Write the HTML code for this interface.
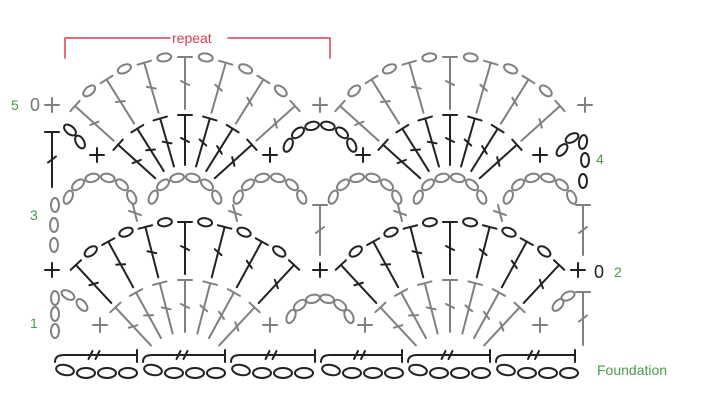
<!DOCTYPE html>
<html><head><meta charset="utf-8"><style>
html,body{margin:0;padding:0;background:#fff;width:705px;height:400px;overflow:hidden}
svg{display:block}
text{font-family:"Liberation Sans","DejaVu Sans",sans-serif}
</style></head><body>
<svg id="s" width="705" height="400" viewBox="0 0 705 400" xmlns="http://www.w3.org/2000/svg">
<g fill="none" stroke-linecap="round">
<path d="M65 58 V38 H170 M228 38 H330 V58" stroke="#d04050" stroke-width="1.5"/>
</g>
<text x="172" y="43" font-size="14" fill="#d04050">repeat</text>
<g font-size="14" fill="#4a9a4a">
<text x="11" y="110">5</text>
<text x="30" y="220">3</text>
<text x="30" y="328">1</text>
<text x="614" y="277">2</text>
<text x="596" y="164">4</text>
<text x="597" y="375">Foundation</text>
</g>
<g font-size="18" fill="#777"><text x="30" y="111">0</text></g>
<g font-size="18" fill="#222"><text x="594" y="278">0</text></g>
<g id="g" fill="none" stroke-width="2" stroke-linecap="round"></g>
</svg>
<script>
var G=document.getElementById('g'),NS='http://www.w3.org/2000/svg';
var K='#222',Y='#808080';
function el(t,a){var e=document.createElementNS(NS,t);for(var k in a)e.setAttribute(k,a[k]);G.appendChild(e);return e;}
function line(x1,y1,x2,y2,c){el('line',{x1:x1,y1:y1,x2:x2,y2:y2,stroke:c});}
function oval(x,y,ang,c,rx,ry){el('ellipse',{cx:x,cy:y,rx:rx||7,ry:ry||4,stroke:c,transform:'rotate('+ang+' '+x+' '+y+')'});}
function plus(x,y,c){line(x-7,y,x+7,y,c);line(x,y-7,x,y+7,c);}
function xm(x,y,c){var a=0.35;line(x-6,y-6*a,x+6,y+6*a,c);line(x-2,y-8,x+2,y+8,c);}
function dc(cx,cy,a,r0,r1,c){var d=a*Math.PI/180,s=Math.sin(d),co=-Math.cos(d);
 var x0=cx+s*r0,y0=cy+co*r0,x1=cx+s*r1,y1=cy+co*r1;line(x0,y0,x1,y1,c);
 var px=-co,py=s; line(x1-px*7,y1-py*7,x1+px*7,y1+py*7,c);
 var mx=(x0+x1)/2,my=(y0+y1)/2; line(mx-px*4+s*2,my-py*4+co*2,mx+px*4-s*2,my+py*4-co*2,c);}
function vdc(x,y0,y1,c){line(x,y0,x,y1,c);line(x-7,y0,x+7,y0,c);line(x-4,(y0+y1)/2+3,x+4,(y0+y1)/2-3,c);}
function fan(cx,cy,span,ri0,ri1,ci,ro0,ro1,co,ovalc){
 for(var i=0;i<7;i++){var a=-span+i*span/3;dc(cx,cy,a,ri0,ri1,ci);dc(cx,cy,a,ro0,ro1,co);
  if(i<6){var m=a+span/6,d=m*Math.PI/180;oval(cx+Math.sin(d)*(ro1+1),cy-Math.cos(d)*(ro1+1),m,ovalc);}}}
function arc(cx,cy,r,a0,a1,n,c){for(var i=0;i<n;i++){var a=a0+(a1-a0)*i/(n-1),d=a*Math.PI/180;oval(cx+Math.sin(d)*r,cy-Math.cos(d)*r,a,c);}}
[185,450].forEach(function(x){fan(x,205,48,40,90,K,96,148,Y,Y);});
[185,450].forEach(function(x){fan(x,382,43,50,102,Y,108,160,K,K);});
[100,185,270,365,450,540].forEach(function(x){arc(x,212,35,-65,65,6,Y);});
arc(320,160,35,-65,65,6,K);
oval(70,130,40,K);oval(80,142,60,K);
oval(562,150,-50,K);oval(572,138,-30,K);
oval(583,142,10,K,4,7);oval(585,160,0,K,4,7);oval(583,181,0,K,4,7);
vdc(52,132,187,K);
[97,270,363,540].forEach(function(x){plus(x,155,K);});
plus(52,105,Y);plus(320,105,Y);plus(585,105,Y);
[135,235,400,500].forEach(function(x){xm(x,213,Y);});
vdc(320,205,255,Y);vdc(583,205,255,Y);
oval(55,205,0,Y,4,7);oval(54,225,0,Y,4,7);oval(54,245,0,Y,4,7);
plus(52,270,K);plus(320,270,K);plus(578,270,K);
arc(320,330,32,-65,65,6,Y);
oval(68,295,30,Y);oval(82,305,50,Y);
oval(55,298,0,Y,4,7);oval(55,314,0,Y,4,7);oval(55,331,0,Y,4,7);
oval(558,305,-50,Y);oval(568,296,-25,Y);
vdc(583,292,345,Y);
[100,270,365,540].forEach(function(x){plus(x,325,Y);});
var xs=[52,140,228,318,405,493,578];
for(var j=0;j<6;j++){var a=xs[j],b=xs[j+1]-3;
 el('path',{d:'M'+(a+3)+' 362 Q'+(a+3)+' 355 '+(a+12)+' 355 H'+b,stroke:K});
 line(b,350,b,362,K);
 var m=(a+b)/2;line(m-6,359,m-2,351,K);line(m+1,359,m+5,351,K);
 for(var k=0;k<4;k++){oval(a+13+k*21,k==0?370:373,k==0?12:0,K,9,5);}}
</script>
</body></html>
